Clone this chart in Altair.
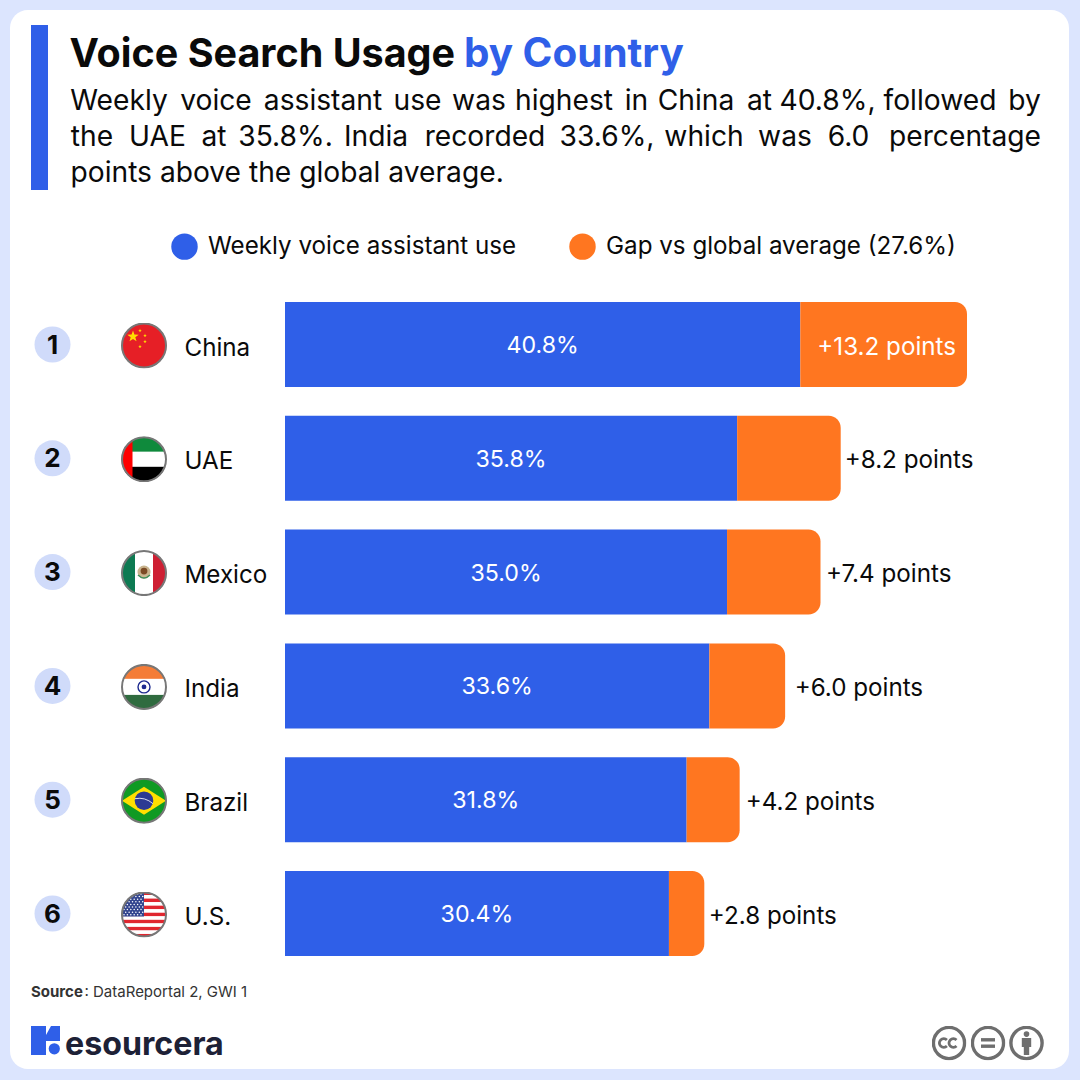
import base64
import math
import altair as alt
import pandas as pd

# ---------- data ----------
countries = ["China", "UAE", "Mexico", "India", "Brazil", "U.S."]
ranks = ["1", "2", "3", "4", "5", "6"]
share = [40.8, 35.8, 35.0, 33.6, 31.8, 30.4]
gap = [13.2, 8.2, 7.4, 6.0, 4.2, 2.8]
series_names = ["Weekly voice assistant use", "Gap vs global average (27.6%)"]

title_black = "Voice Search Usage"
title_blue = "by Country"
line1_words = ["Weekly", "voice", "assistant", "use", "was", "highest", "in", "China", "at", "40.8%,", "followed", "by"]
line2_words = ["the", "UAE", "at", "35.8%.", "India", "recorded", "33.6%,", "which", "was", "6.0", "percentage"]
line3_text = "points above the global average."
source_bold = "Source"
source_rest = ": DataReportal 2, GWI 1"
brand = "esourcera"

# ---------- layout constants (pixels of the 1080 canvas) ----------
line1_x = [119, 216, 323, 417.5, 479, 564, 636.5, 696, 759.5, 827.5, 940, 1024.5]
line2_x = [92, 157.5, 214, 285.5, 376, 485, 607, 704, 785, 848.5, 965]
gap_dx = [0, 4, 5.5, 9.5, 6, 4.5]
PX_PER_UNIT = 682 / 54

BLUE, ORANGE = "#2f5fe8", "#ff7620"
FRAME, CHIP = "#dce5fe", "#d0dbfa"
INK = "#0a0a0a"
FONT = "Inter"


# ---------- small inline pictures ----------
def uri(body, w=46, h=46):
    svg = (f'<svg xmlns="http://www.w3.org/2000/svg" width="{w}" height="{h}" viewBox="0 0 {w} {h}">{body}</svg>')
    return "data:image/svg+xml;base64," + base64.b64encode(svg.encode()).decode()


def star(cx, cy, r, rot=0.0, fill="#ffde00"):
    pts = []
    for i in range(10):
        a = rot - math.pi / 2 + i * math.pi / 5
        q = r if i % 2 == 0 else r * 0.4
        pts.append(f"{cx + q * math.cos(a):.2f},{cy + q * math.sin(a):.2f}")
    return f'<polygon points="{" ".join(pts)}" fill="{fill}"/>'


def flag(inner):
    return uri(
        '<defs><clipPath id="c"><circle cx="23" cy="23" r="22.5"/></clipPath></defs>'
        f'<g clip-path="url(#c)">{inner}</g>'
        '<circle cx="23" cy="23" r="22" fill="none" stroke="#777777" stroke-width="2"/>'
    )


def rect(x, y, w, h, c):
    return f'<rect x="{x}" y="{y}" width="{w}" height="{h}" fill="{c}"/>'


china = rect(0, 0, 46, 46, "#e61f26") + star(12, 14, 6) + star(19, 8, 1.9) + star(24, 13, 1.9) + star(24, 19, 1.9) + star(19, 24, 1.9)
uae = rect(0, 0, 46, 15.5, "#0f8a3c") + rect(0, 15.5, 46, 15, "#ffffff") + rect(0, 30.5, 46, 16, "#000000") + rect(0, 0, 11.5, 46, "#ff0000")
mexico = (rect(0, 0, 14, 46, "#0d7a52") + rect(14, 0, 18, 46, "#ffffff") + rect(32, 0, 14, 46, "#ce1f33")
          + '<circle cx="23" cy="22" r="6.5" fill="#c9b48e"/><circle cx="23" cy="21" r="3.4" fill="#7b4a24"/>'
          + '<path d="M17 25 Q23 31 29 25" fill="none" stroke="#3f8f5a" stroke-width="1.4"/>')
india = (rect(0, 0, 46, 15, "#f47c37") + rect(0, 15, 46, 16, "#ffffff") + rect(0, 31, 46, 15, "#2f6b3f")
         + '<circle cx="23" cy="23" r="6" fill="none" stroke="#1d2a8f" stroke-width="1.4"/><circle cx="23" cy="23" r="2.4" fill="#1d2a8f"/>')
brazil = (rect(0, 0, 46, 46, "#0f9a23") + '<polygon points="1,23 23,9 45,23 23,37" fill="#ffdf00"/>'
          + '<circle cx="23" cy="23" r="9.3" fill="#2c3a93"/>'
          + '<path d="M14 21 Q24 19 32 26" fill="none" stroke="#d8dcf0" stroke-width="1"/>')
us_stripes = "".join(rect(0, i * 46 / 13, 46, 46 / 13 + 0.1, "#e0262f" if i % 2 == 0 else "#ffffff") for i in range(13))
us_stars = "".join(
    f'<circle cx="{3 + c * 3.4 + (1.7 if r % 2 else 0):.1f}" cy="{2.5 + r * 2.6:.1f}" r="0.75" fill="#ffffff"/>'
    for r in range(9) for c in range(6)
)
usa = us_stripes + rect(0, 0, 23, 25, "#33458f") + us_stars
flags = [flag(f) for f in [china, uae, mexico, india, brazil, usa]]

logo_uri = uri(
    f'<path d="M0 0H15V9L20 0H29V15H15V29H0Z" fill="{BLUE}"/>'
    f'<circle cx="23.3" cy="22.8" r="5.6" fill="{BLUE}"/>',
    29, 29,
)
grey = "#6e6e6e"
ring = f'<circle cx="17.5" cy="17.5" r="15.6" fill="none" stroke="{grey}" stroke-width="3.4"/>'
cc_uri = uri(
    ring + f'<path d="M15.4 14.4a4.4 4.4 0 1 0 0 6.2M25 14.4a4.4 4.4 0 1 0 0 6.2" fill="none" stroke="{grey}" stroke-width="2.8"/>',
    35, 35,
)
eq_uri = uri(
    ring + f'<rect x="10.5" y="12.6" width="14" height="3.4" fill="{grey}"/><rect x="10.5" y="19" width="14" height="3.4" fill="{grey}"/>',
    35, 35,
)
by_uri = uri(
    ring + f'<circle cx="17.5" cy="8.6" r="2.8" fill="{grey}"/>'
    f'<path d="M12.8 12.6H22.2V21.4H20.2V29.5H14.8V21.4H12.8Z" fill="{grey}"/>',
    35, 35,
)

# ---------- tables ----------
totals = [a + b for a, b in zip(share, gap)]
rows = pd.DataFrame({
    "country": countries, "rank": ranks, "share": share, "gap": gap,
    "total": totals,
    "label_x": [t + d / PX_PER_UNIT for t, d in zip(totals, gap_dx)],
    "mid": [a / 2 for a in share],
    "share_label": [f"{a:.1f}%" for a in share],
    "gap_label": [f"+{b:.1f} points" for b in gap],
    "flag": flags,
    "s1": series_names[0], "s2": series_names[1], "zero": 0,
})

one = alt.Data(values=[{"a": 1}])

x_scale = alt.Scale(domain=[0, 54], range=[285, 967], nice=False, zero=False)
y_scale = alt.Scale(domain=countries, range=[287.6, 970.4], paddingInner=28.8 / 113.8, paddingOuter=14.4 / 113.8)
color_scale = alt.Scale(domain=series_names, range=[BLUE, ORANGE])

X = lambda f: alt.X(f, scale=x_scale, axis=None, title=None)
Y = alt.Y("country:N", scale=y_scale, axis=None, title=None)


def label(text, x, y, size, color=INK, weight=400, font=FONT, align="left"):
    return alt.Chart(one).mark_text(
        text=text, font=font, fontSize=size, fontWeight=weight, color=color, align=align, baseline="alphabetic",
    ).encode(x=alt.value(x), y=alt.value(y))


def picture(url, x, y, w, h):
    return alt.Chart(alt.Data(values=[{"u": url}])).mark_image(width=w, height=h).encode(
        x=alt.value(x), y=alt.value(y), url="u:N"
    )


# ---------- layers ----------
card = alt.Chart(one).mark_rect(color="#ffffff", cornerRadius=18).encode(
    x=alt.value(10), x2=alt.value(1069), y=alt.value(10), y2=alt.value(1069))
accent = alt.Chart(one).mark_rect(color=BLUE).encode(
    x=alt.value(31), x2=alt.value(48), y=alt.value(25), y2=alt.value(190))

legend = alt.Legend(
    orient="none", legendX=171, legendY=233, direction="horizontal", title=None,
    symbolType="circle", symbolSize=700, symbolStrokeWidth=0, symbolOpacity=1,
    labelFont=FONT, labelFontSize=24.2, labelColor=INK, labelOffset=10, labelLimit=600, columnPadding=52,
)
bars_a = alt.Chart(rows).mark_bar().encode(
    x=X("zero:Q"), x2="share:Q", y=Y,
    color=alt.Color("s1:N", scale=color_scale, legend=legend),
)
bars_b = alt.Chart(rows).mark_bar(cornerRadiusTopRight=12, cornerRadiusBottomRight=12).encode(
    x=X("share:Q"), x2="total:Q", y=Y,
    color=alt.Color("s2:N", scale=color_scale, legend=legend),
)
share_text = alt.Chart(rows).mark_text(font=FONT, fontSize=23.2, color="#ffffff", align="center", baseline="middle", dy=1.5).encode(
    x=X("mid:Q"), y=Y, text="share_label:N")
gap_inside = alt.Chart(rows).transform_filter("datum.gap > 10").mark_text(
    font=FONT, fontSize=24.2, color="#ffffff", align="right", baseline="middle", dx=-11, dy=3,
).encode(x=X("total:Q"), y=Y, text="gap_label:N")
gap_outside = alt.Chart(rows).transform_filter("datum.gap <= 10").mark_text(
    font=FONT, fontSize=24.2, color=INK, align="left", baseline="middle", dy=3,
).encode(x=X("label_x:Q"), y=Y, text="gap_label:N")
chips = alt.Chart(rows).mark_circle(size=1296, color=CHIP, opacity=1).encode(x=alt.value(52.5), y=Y)
rank_text = alt.Chart(rows).mark_text(font=FONT, fontSize=26, fontWeight=700, color=INK, align="center", baseline="middle", dy=1).encode(
    x=alt.value(52.5), y=Y, text="rank:N")
flag_pics = alt.Chart(rows).mark_image(width=46, height=46, yOffset=1).encode(x=alt.value(144), y=Y, url="flag:N")
names = alt.Chart(rows).mark_text(font=FONT, fontSize=24.2, color=INK, align="left", baseline="middle", dy=4).encode(
    x=alt.value(184.5), y=Y, text="country:N")

layers = [card, accent,
          label(title_black, 69.5, 67, 39.5, weight=700),
          label(title_blue, 464, 67, 40.4, color=BLUE, weight=700)]
layers += [label(w, x, 110, 28.2, align="center") for w, x in zip(line1_words, line1_x)]
layers += [label(w, x, 146, 28.2, align="center") for w, x in zip(line2_words, line2_x)]
layers += [label(line3_text, 70.5, 182, 28.2)]
layers += [bars_a, bars_b, share_text, gap_inside, gap_outside, chips, rank_text, flag_pics, names]
layers += [
    label(source_bold, 31, 997, 15, color="#333333", weight=700),
    label(source_rest, 84.5, 997, 15, color="#333333"),
    picture(logo_uri, 45.5, 1040.5, 29, 29),
    label(brand, 65, 1055, 32.2, color="#1d2136", weight=700),
    picture(cc_uri, 949, 1043, 35, 35),
    picture(eq_uri, 988, 1043, 35, 35),
    picture(by_uri, 1026.5, 1043, 35, 35),
]

chart = alt.layer(*layers).resolve_scale(color="shared").properties(
    width=1080, height=1080, padding=0, background=FRAME,
    autosize=alt.AutoSizeParams(type="none"),
).configure_view(stroke=None)

chart.save("out.html", embed_options={
    "renderer": "svg", "actions": False,
    "defaultStyle": f"body{{margin:0;background:{FRAME}}}",
})
